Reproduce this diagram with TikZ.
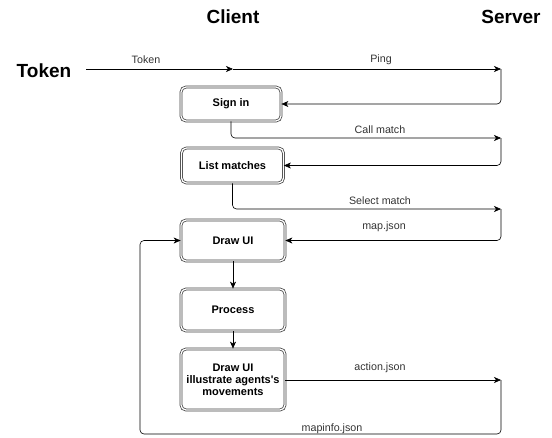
\documentclass[tikz,border=0pt]{standalone}
\usepackage{fontspec}
\setmainfont{Liberation Sans}
\usetikzlibrary{arrows.meta,positioning}
\tikzset{
  stepbox/.style={draw=black!75,double=white,double distance=1.3pt,line width=0.75pt,
    rounded corners=5pt,align=center,font=\fontsize{11}{13}\selectfont\bfseries,
    minimum width=102pt,inner sep=2pt},
  flow/.style={draw,line width=0.6pt,rounded corners=4pt,-{Stealth[length=7pt,width=6pt,inset=2pt]}},
  lbl/.style={font=\fontsize{10.7}{12}\selectfont,text=black!80,inner sep=1pt},
  head/.style={font=\fontsize{19}{22}\selectfont\bfseries}
}
\begin{document}
\begin{tikzpicture}[x=1pt,y=-1pt]
  \useasboundingbox (0,0) rectangle (552,437);
  % headers
  \node[head] (client) at (233,17) {Client};
  \node[head] (server) at (511,17) {Server};
  \node[head,inner sep=0pt] (token) at (44,71) {Token};
  % client steps
  \node[stepbox,minimum width=100pt,minimum height=34pt] (signin) at (231,104) {Sign in};
  \node[stepbox,minimum height=35pt] (listm) at (232.5,165.5) {List matches};
  \node[stepbox,minimum width=104pt,minimum height=41pt] (drawui) at (233,240.5) {Draw UI};
  \node[stepbox,minimum width=104pt,minimum height=42pt] (process) at (233,310) {Process};
  \node[stepbox,minimum width=104pt,minimum height=61pt] (drawmove) at (233,379.5)
     {Draw UI\\[-1pt]illustrate agents\textquotesingle s\\[-1pt]movements};
  % server side turning points
  \coordinate (tokmid) at (233,69);
  \coordinate (ping) at (501,69);
  \coordinate (callm) at (501,138);
  \coordinate (selm) at (501,209);
  \coordinate (act) at (501,380);
  \coordinate (back) at (140,434);
  % sign in
  \draw[flow] ([xshift=15pt]token.east |- tokmid) -- (tokmid);
  \draw[flow] (tokmid) -- (ping);
  \node[lbl] (ltoken) at (146,60) {Token};
  \node[lbl] (lping) at (381,60) {Ping};
  \draw[flow] (ping) |- (signin.east);
  % matches
  \draw[flow] (signin.south) |- (callm);
  \node[lbl] (lcall) at (380,130) {Call match};
  \draw[flow] (callm) |- (listm.east);
  \draw[flow] (listm.south) |- (selm);
  \node[lbl] (lsel) at (380,201) {Select match};
  \draw[flow] (selm) |- (drawui.east);
  \node[lbl] (lmap) at (384,227) {map.json};
  % game loop
  \draw[flow] (drawui) -- (process);
  \draw[flow] (process) -- (drawmove);
  \draw[flow] (drawmove.east |- act) -- (act);
  \node[lbl] (lact) at (380,368) {action.json};
  \draw[flow] (act) |- (back) |- (drawui.west);
  \node[lbl] (linfo) at (332,429) {mapinfo.json};
\end{tikzpicture}
\end{document}
